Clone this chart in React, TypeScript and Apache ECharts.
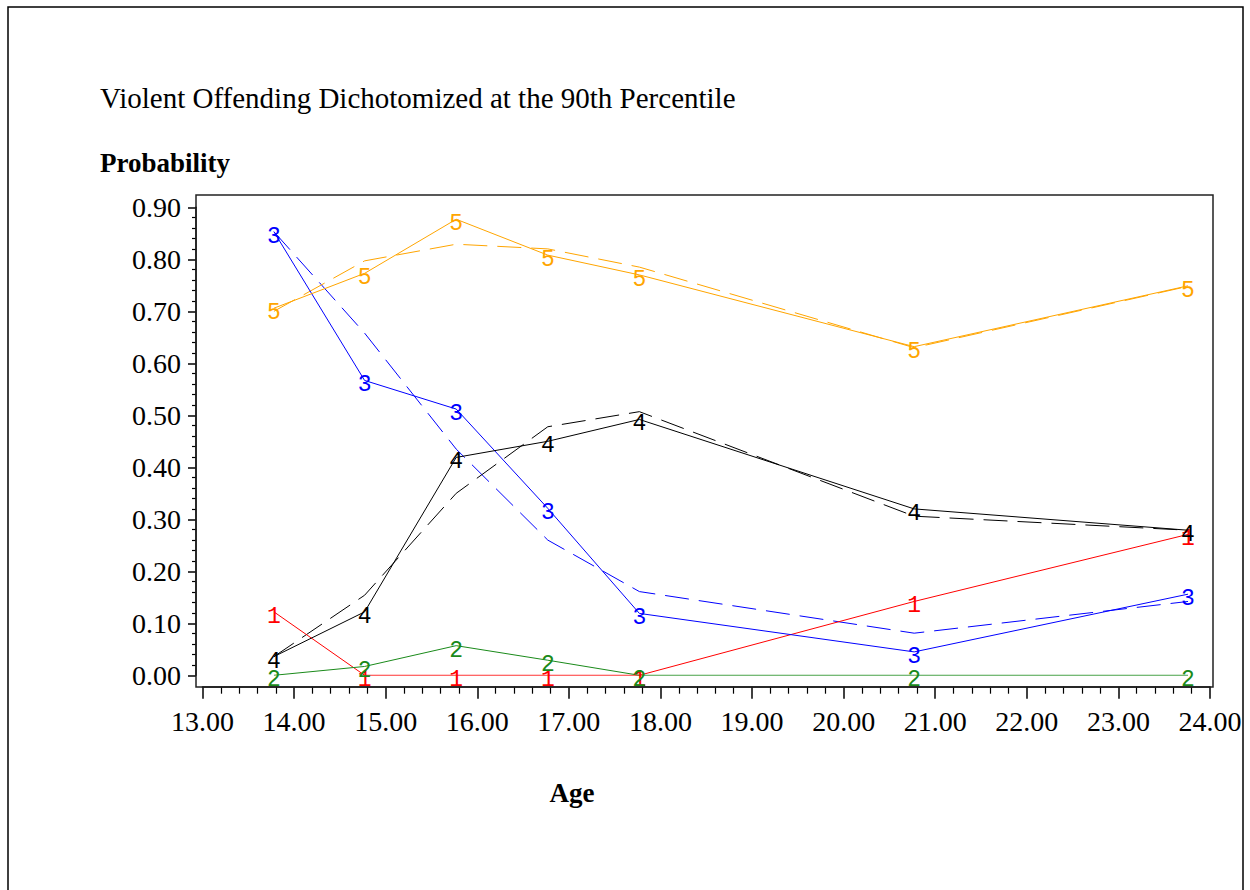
import React, { useEffect, useRef } from "react";
import * as echarts from "echarts";

const ages = [13.78, 14.77, 15.77, 16.77, 17.77, 20.77, 23.76];
const group1Observed = [0.122, 0, 0, 0, 0, 0.142, 0.271];
const group2Observed = [0, 0.017, 0.057, 0.029, 0, 0, 0];
const group3Observed = [0.853, 0.567, 0.512, 0.321, 0.119, 0.045, 0.156];
const group3Predicted = [0.853, 0.658, 0.435, 0.26, 0.161, 0.081, 0.142];
const group4Observed = [0.036, 0.122, 0.419, 0.45, 0.492, 0.32, 0.279];
const group4Predicted = [0.036, 0.154, 0.35, 0.478, 0.507, 0.306, 0.279];
const group5Observed = [0.706, 0.773, 0.877, 0.808, 0.77, 0.632, 0.749];
const group5Predicted = [0.7, 0.797, 0.829, 0.82, 0.785, 0.63, 0.748];

const groupLabels = ["1", "2", "3", "4", "5"];
const groupColors = ["#ff0000", "#1a8a1a", "#0000ff", "#000000", "#ffa500"];
const observedSets = [group1Observed, group2Observed, group3Observed, group4Observed, group5Observed];
const predictedSets: { group: number; values: number[] }[] = [
  { group: 3, values: group3Predicted },
  { group: 4, values: group4Predicted },
  { group: 5, values: group5Predicted },
];

const titleText = "Violent Offending Dichotomized at the 90th Percentile";
const yTitle = "Probability";
const xTitle = "Age";

const serif = "'Liberation Serif', 'Times New Roman', serif";

export default function App() {
  const ref = useRef<HTMLDivElement>(null);
  useEffect(() => {
    document.body.style.margin = "0";
    const chart = echarts.init(ref.current!, null, { renderer: "svg" });
    const pairs = (vals: number[]) => ages.map((a, i) => [a, vals[i]]);
    const series: any[] = [];
    predictedSets.forEach((p) => {
      series.push({
        type: "line",
        data: pairs(p.values),
        symbol: "none",
        z: 2,
        lineStyle: { color: groupColors[p.group - 1], width: 1, type: [24, 10] },
      });
    });
    observedSets.forEach((vals, gi) => {
      series.push({
        type: "line",
        data: pairs(vals),
        symbol: "circle",
        symbolSize: 2,
        z: 3,
        itemStyle: { color: "rgba(0,0,0,0)" },
        lineStyle: { color: groupColors[gi], width: 1 },
        label: {
          show: true,
          position: "inside",
          offset: [0, 5],
          formatter: () => groupLabels[gi],
          color: groupColors[gi],
          fontSize: 23,
          fontFamily: "'Liberation Mono', monospace",
        },
      });
    });
    chart.setOption({
      animation: false,
      backgroundColor: "#ffffff",
      grid: { left: 202.5, right: 40, top: 207.3, bottom: 214.7 },
      xAxis: {
        type: "value",
        min: 13,
        max: 24,
        interval: 1,
        offset: 11.4,
        axisLine: { show: true, onZero: false, lineStyle: { color: "#000", width: 1.5 } },
        axisTick: { show: true, length: 12, lineStyle: { color: "#000", width: 1.5 } },
        minorTick: { show: true, splitNumber: 5, length: 7, lineStyle: { color: "#000", width: 1.2 } },
        splitLine: { show: false },
        axisLabel: {
          formatter: (v: number) => v.toFixed(2),
          margin: 21,
          fontSize: 28,
          fontFamily: serif,
          color: "#000",
        },
      },
      yAxis: {
        type: "value",
        min: 0,
        max: 0.9,
        interval: 0.1,
        offset: 6.5,
        axisLine: { show: true, onZero: false, lineStyle: { color: "#000", width: 1.5 } },
        axisTick: { show: true, length: 8, lineStyle: { color: "#000", width: 1.5 } },
        minorTick: { show: true, splitNumber: 5, length: 4, lineStyle: { color: "#000", width: 1.2 } },
        splitLine: { show: false },
        axisLabel: {
          formatter: (v: number) => v.toFixed(2),
          margin: 15,
          fontSize: 28,
          fontFamily: serif,
          color: "#000",
        },
      },
      graphic: [
        {
          type: "rect",
          shape: { x: 8, y: 7, width: 1235, height: 920 },
          style: { fill: "none", stroke: "#000", lineWidth: 1.5 },
          silent: true,
          z: 0,
        },
        {
          type: "rect",
          shape: { x: 196, y: 195, width: 1017, height: 492 },
          style: { fill: "none", stroke: "#222", lineWidth: 1.5 },
          silent: true,
          z: 10,
        },
        {
          type: "text",
          x: 100,
          y: 98,
          style: { text: titleText, font: `29px ${serif}`, fill: "#000", textVerticalAlign: "middle" },
        },
        {
          type: "text",
          x: 100,
          y: 163,
          style: { text: yTitle, font: `bold 27px ${serif}`, fill: "#000", textVerticalAlign: "middle" },
        },
        {
          type: "text",
          x: 572,
          y: 793,
          style: { text: xTitle, font: `bold 27px ${serif}`, fill: "#000", textAlign: "center", textVerticalAlign: "middle" },
        },
      ],
      series,
    });
    return () => chart.dispose();
  }, []);
  return <div ref={ref} style={{ width: 1250, height: 890 }} />;
}
